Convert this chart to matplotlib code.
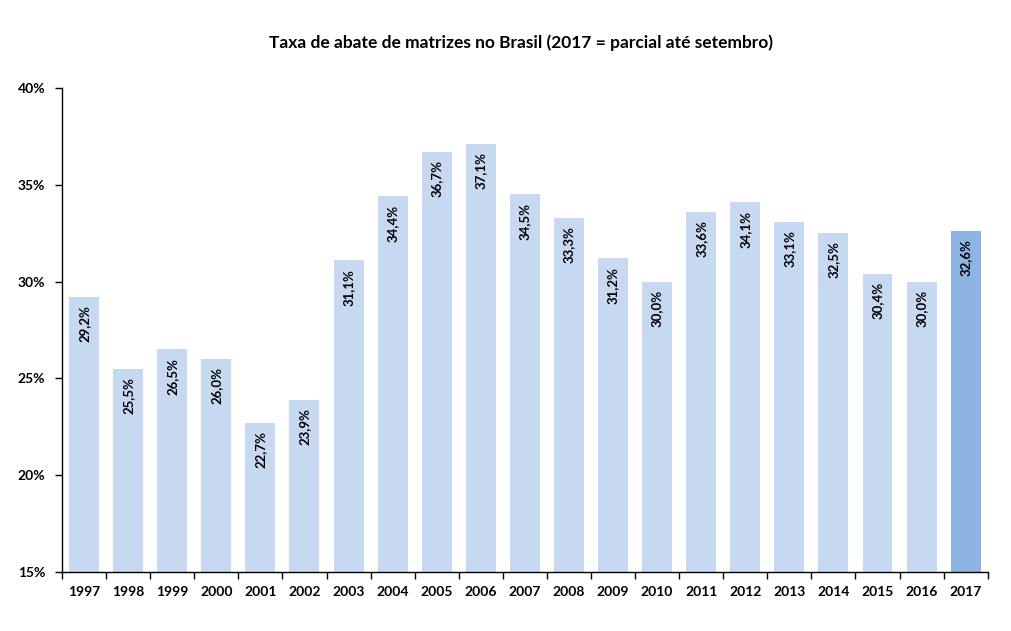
import numpy as np
import matplotlib
matplotlib.use("Agg")
import matplotlib.pyplot as plt

anos = ["1997", "1998", "1999", "2000", "2001", "2002", "2003", "2004", "2005", "2006", "2007",
        "2008", "2009", "2010", "2011", "2012", "2013", "2014", "2015", "2016", "2017"]
taxa = [29.2, 25.5, 26.5, 26.0, 22.7, 23.9, 31.1, 34.4, 36.7, 37.1, 34.5,
        33.3, 31.2, 30.0, 33.6, 34.1, 33.1, 32.5, 30.4, 30.0, 32.6]
rotulos = ["%.1f%%" % v for v in taxa]
rotulos = [r.replace(".", ",") for r in rotulos]

plt.rcParams['font.family'] = ['Lato', 'DejaVu Sans']

fig = plt.figure(figsize=(10.12, 6.31), dpi=100)
ax = fig.add_axes([0.0613, 0.0935, 0.9147, 0.767])

x = np.arange(len(anos))
cores = ["#c6d9f1"] * (len(anos) - 1) + ["#8db4e2"]
ax.bar(x, taxa, width=0.68, color=cores, bottom=0)

for xi, v, r in zip(x, taxa, rotulos):
    ax.annotate(r, (xi, v), xytext=(0, -6), textcoords="offset points",
                rotation=90, ha="center", va="top", fontsize=9.5, fontweight="bold")

ax.set_ylim(15, 40)
ax.set_xlim(-0.5, len(anos) - 0.5)
ax.set_yticks([15, 20, 25, 30, 35, 40])
ax.set_yticklabels(["15%", "20%", "25%", "30%", "35%", "40%"], fontsize=10, fontweight="bold")
ax.set_xticks(x)
ax.set_xticklabels(anos, fontsize=10, fontweight="bold")
ax.tick_params(axis="x", length=0, pad=10)
ax.set_xticks(np.arange(-0.5, len(anos), 1), minor=True)
ax.tick_params(axis="x", which="minor", length=5, direction="out", width=1)
ax.tick_params(axis="y", length=5, direction="out", width=1, pad=7)

ax.spines["top"].set_visible(False)
ax.spines["right"].set_visible(False)
ax.spines["left"].set_linewidth(1)
ax.spines["bottom"].set_linewidth(1)

fig.text(0.515, 0.932, "Taxa de abate de matrizes no Brasil (2017 = parcial até setembro)",
         ha="center", va="center", fontsize=12.5, fontweight="bold")

fig.savefig("out.png", dpi=100)
